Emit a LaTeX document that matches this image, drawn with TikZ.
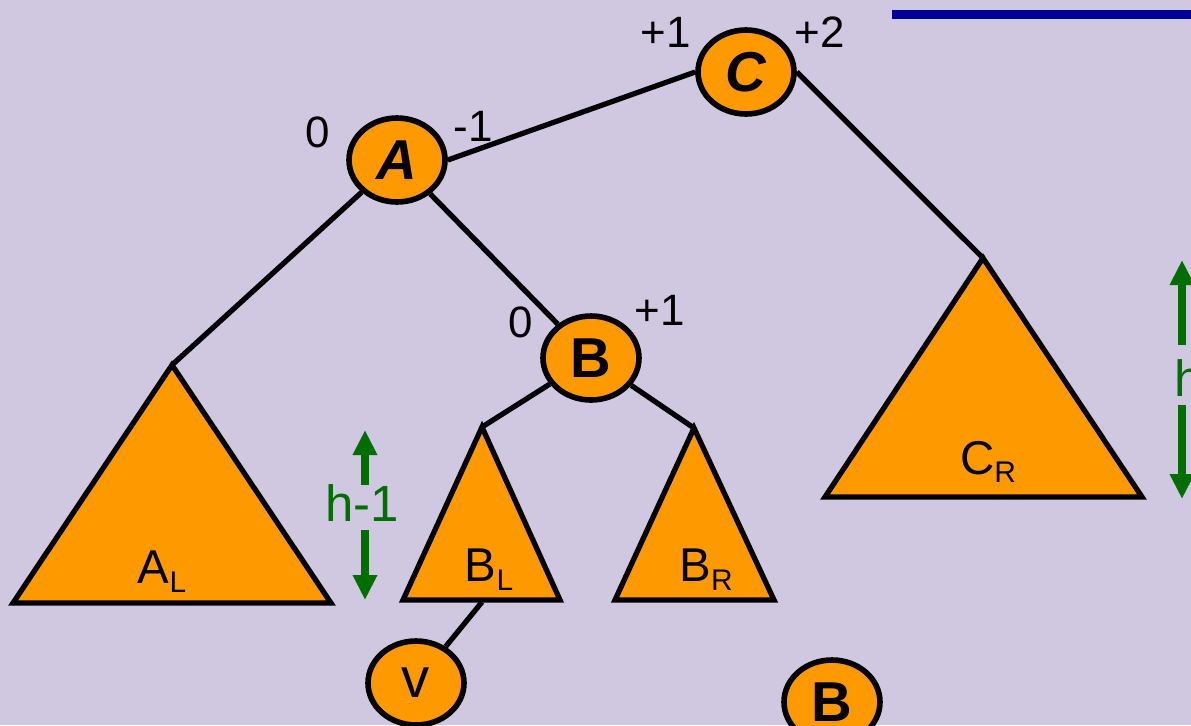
\documentclass[tikz,border=0pt]{standalone}
\usepackage{fontspec}
\setmainfont{Liberation Sans}
\usetikzlibrary{shapes,arrows.meta,positioning,calc}
\definecolor{bgpurple}{RGB}{207,200,224}
\definecolor{avlorange}{RGB}{255,153,0}
\definecolor{hgreen}{RGB}{0,110,0}
\definecolor{titleblue}{RGB}{0,0,153}

\begin{document}
\begin{tikzpicture}[x=0.02cm,y=-0.02cm,
    avlnode/.style={ellipse, draw, line width=3.2pt, fill=avlorange, minimum width=1.92cm, minimum height=1.68cm, inner sep=0pt, font=\fontsize{32}{32}\selectfont\bfseries},
    subtree/.style={draw, line width=3pt, fill=avlorange, line join=miter},
    link/.style={line width=3pt},
    bal/.style={font=\fontsize{25}{25}\selectfont},
    sublabel/.style={font=\fontsize{27}{27}\selectfont},
    harrow/.style={hgreen, line width=4pt, -{Triangle[length=0.5cm,width=0.46cm]}},
    hlabel/.style={text=hgreen, font=\fontsize{29}{29}\selectfont}]
    % Background
    \clip (0,0) rectangle (1191,725);
    \fill[bgpurple] (0,0) rectangle (1191,725);
    \fill[titleblue] (892,10) rectangle (1191,19);

    % Nodes
    \node[avlnode] (C) at (746,72) {\itshape C};
    \node[avlnode] (A) at (397,160) {\itshape A};
    \node[avlnode] (B) at (591,358) {B};
    \node[avlnode, font=\fontsize{32}{32}\selectfont] (v) at (416,683) {v};
    \node[avlnode] (B2) at (832,702) {B};

    % Subtrees
    \coordinate (ALtop) at (172,365);
    \coordinate (BLtop) at (482,427);
    \coordinate (BRtop) at (694,428);
    \coordinate (CRtop) at (983,258);
    \coordinate (BLbot) at (482,602);
    \draw[subtree] (ALtop) -- (331,603) -- (13,603) -- cycle;
    \draw[subtree] (BLtop) -- (560,600) -- (403,600) -- cycle;
    \draw[subtree] (BRtop) -- (774,600) -- (615,600) -- cycle;
    \draw[subtree] (CRtop) -- (1142,497) -- (825,497) -- cycle;
    \node[sublabel] (AL) at (162,572) {A\raisebox{-0.35ex}{\fontsize{17}{17}\selectfont L}};
    \node[sublabel] (BL) at (489,570) {B\raisebox{-0.35ex}{\fontsize{17}{17}\selectfont L}};
    \node[sublabel] (BR) at (706,570) {B\raisebox{-0.35ex}{\fontsize{17}{17}\selectfont R}};
    \node[sublabel] (CR) at (988,462) {C\raisebox{-0.35ex}{\fontsize{17}{17}\selectfont R}};

    % Edges
    \draw[link] (A.east) -- (C.west);
    \draw[link] (C.east) -- (CRtop);
    \draw[link] (A) -- (ALtop);
    \draw[link] (A) -- (B);
    \draw[link] (B) -- (BLtop);
    \draw[link] (B) -- (BRtop);
    \draw[link] (BLbot) -- (v);

    % Balance factors
    \node[bal] (balA1) at (318,132) {0};
    \node[bal] (balA2) at (473,126) {-1};
    \node[bal] (balC1) at (666,32) {+1};
    \node[bal] (balC2) at (820,32) {+2};
    \node[bal] (balB1) at (521,322) {0};
    \node[bal] (balB2) at (660,310) {+1};

    % Heights
    \node[hlabel] (hm1) at (362,503) {h-1};
    \coordinate (hm1up) at (365,430);
    \coordinate (hm1dn) at (365,600);
    \draw[harrow] (365,485) -- (hm1up);
    \draw[harrow] (365,530) -- (hm1dn);
    \node[hlabel] (hh) at (1189,378) {h};
    \coordinate (hhup) at (1182,260);
    \coordinate (hhdn) at (1182,499);
    \draw[harrow] (1182,345) -- (hhup);
    \draw[harrow] (1182,405) -- (hhdn);
\end{tikzpicture}
\end{document}
